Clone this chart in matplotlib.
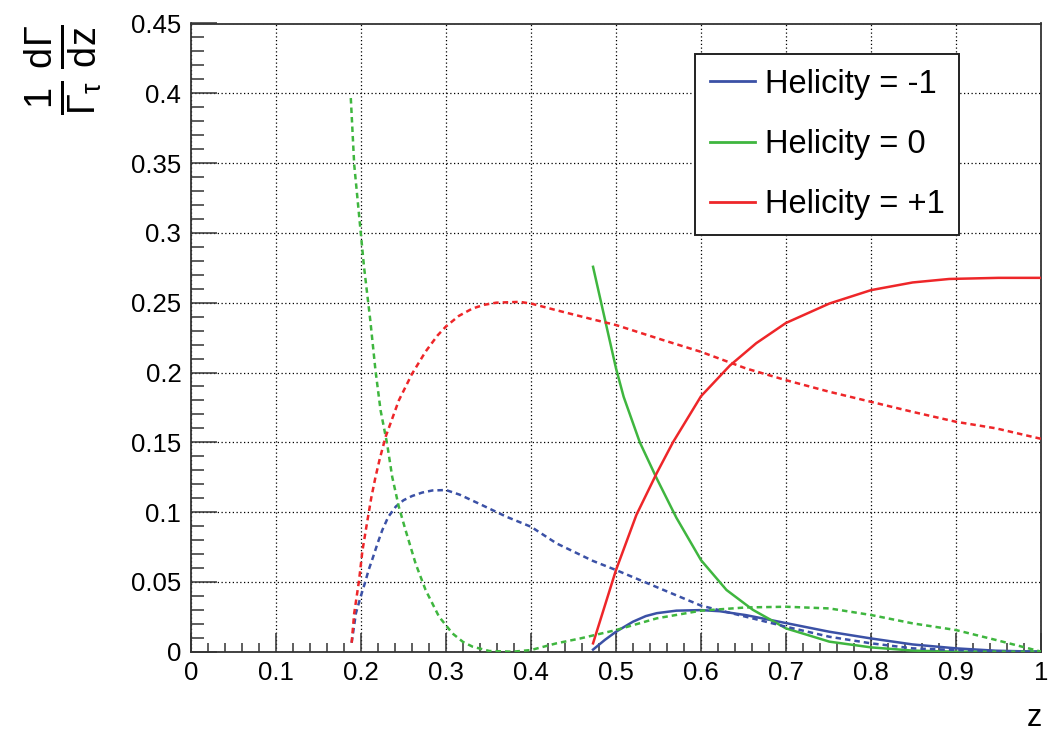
import matplotlib
matplotlib.use("Agg")
import matplotlib.pyplot as plt
from matplotlib.ticker import MultipleLocator, FixedLocator, FixedFormatter

# z distributions, dashed curves (threshold near z = 0.19)
z_dash_m1 = [0.189, 0.194, 0.200, 0.205, 0.209, 0.213, 0.220, 0.225, 0.232, 0.241, 0.250,
             0.260, 0.272, 0.284, 0.300, 0.316, 0.339, 0.371, 0.400, 0.430, 0.473, 0.500,
             0.556, 0.600, 0.653, 0.700, 0.751, 0.800, 0.849, 0.900, 0.950, 1.000]
y_dash_m1 = [0.0064, 0.0275, 0.0402, 0.0500, 0.0586, 0.0656, 0.0785, 0.0870, 0.0965, 0.1040, 0.1085,
             0.1115, 0.1140, 0.1155, 0.1158, 0.1125, 0.1060, 0.0967, 0.0895, 0.0776, 0.0650, 0.0585,
             0.0442, 0.0330, 0.0250, 0.0179, 0.0107, 0.0060, 0.0024, 0.0012, 0.0003, 0.0]

z_dash_0 = [0.188, 0.192, 0.198, 0.2035, 0.211, 0.217, 0.223, 0.2307, 0.2367, 0.2445,
            0.2524, 0.2643, 0.276, 0.2918, 0.3076, 0.320, 0.3313, 0.351, 0.3786, 0.400, 0.430,
            0.458, 0.500, 0.548, 0.600, 0.653, 0.700, 0.751, 0.800, 0.849, 0.900,
            0.947, 0.993, 1.000]
y_dash_0 = [0.3966, 0.349, 0.311, 0.276, 0.237, 0.2017, 0.173, 0.149, 0.1253, 0.1038,
            0.0871, 0.0630, 0.0442, 0.0251, 0.0131, 0.0070, 0.0036, 0.0005, 0.0, 0.0012, 0.0060,
            0.0095, 0.0155, 0.0239, 0.0294, 0.0317, 0.0322, 0.0310, 0.0263, 0.0203, 0.0155,
            0.0084, 0.0012, 0.0]

z_dash_p1 = [0.189, 0.192, 0.1977, 0.2016, 0.207, 0.212, 0.217, 0.222, 0.229, 0.2445, 0.260,
             0.276, 0.290, 0.300, 0.315, 0.331, 0.345, 0.359, 0.3865, 0.400, 0.430, 0.473,
             0.500, 0.556, 0.600, 0.653, 0.700, 0.751, 0.800, 0.849, 0.900, 0.947, 1.000]
y_dash_p1 = [0.0064, 0.0275, 0.051, 0.072, 0.092, 0.110, 0.125, 0.138, 0.154, 0.180, 0.199,
             0.215, 0.2265, 0.233, 0.2405, 0.2458, 0.2485, 0.2500, 0.2506, 0.2494, 0.2446, 0.2380,
             0.234, 0.2231, 0.2148, 0.2029, 0.1945, 0.1862, 0.179, 0.1718, 0.1647, 0.160, 0.1525]

# z distributions, solid curves (threshold near z = 0.473)
z_solid_m1 = [0.473, 0.487, 0.500, 0.520, 0.535, 0.548, 0.571, 0.600, 0.622, 0.653, 0.700,
              0.751, 0.800, 0.849, 0.900, 0.947, 1.000]
y_solid_m1 = [0.0015, 0.0085, 0.0143, 0.0215, 0.0255, 0.0276, 0.0294, 0.0298, 0.0290, 0.0262, 0.0205,
              0.0143, 0.0095, 0.0052, 0.0024, 0.0007, 0.0]

z_solid_0 = [0.473, 0.487, 0.500, 0.509, 0.528, 0.548, 0.571, 0.600, 0.630, 0.661,
             0.700, 0.751, 0.800, 0.849, 0.900, 1.000]
y_solid_0 = [0.2757, 0.238, 0.2030, 0.1826, 0.150, 0.124, 0.0960, 0.0656, 0.0442, 0.0300,
             0.0167, 0.0072, 0.0031, 0.0008, 0.0, 0.0]

z_solid_p1 = [0.473, 0.500, 0.524, 0.548, 0.567, 0.600, 0.634, 0.665, 0.700, 0.751,
              0.800, 0.849, 0.892, 0.950, 1.000]
y_solid_p1 = [0.006, 0.0585, 0.098, 0.128, 0.1500, 0.1830, 0.2050, 0.2210, 0.2355, 0.2494,
              0.2590, 0.2645, 0.2670, 0.2678, 0.2678]

labels = ["Helicity = -1", "Helicity = 0", "Helicity = +1"]
colors = ["#3b51a6", "#3fb63f", "#ee2629"]

x_ticks = [0, 0.1, 0.2, 0.3, 0.4, 0.5, 0.6, 0.7, 0.8, 0.9, 1.0]
x_tick_labels = ["0", "0.1", "0.2", "0.3", "0.4", "0.5", "0.6", "0.7", "0.8", "0.9", "1"]
y_ticks = [0, 0.05, 0.1, 0.15, 0.2, 0.25, 0.3, 0.35, 0.4, 0.45]
y_tick_labels = ["0", "0.05", "0.1", "0.15", "0.2", "0.25", "0.3", "0.35", "0.4", "0.45"]

plt.rcParams['font.family'] = ['Liberation Sans', 'DejaVu Sans']
plt.rcParams['mathtext.fontset'] = 'custom'
plt.rcParams['mathtext.rm'] = 'Liberation Sans'
plt.rcParams['mathtext.it'] = 'Liberation Sans'
plt.rcParams['mathtext.bf'] = 'Liberation Sans:bold'

W, H = 1049, 734
fig = plt.figure(figsize=(W / 100, H / 100), dpi=100)
ax = fig.add_axes([191 / W, (H - 651.7) / H, 850 / W, 628.2 / H])

dash = (0, (2.2, 1.6))
lw = 1.8
solid_sets = [(z_solid_m1, y_solid_m1), (z_solid_0, y_solid_0), (z_solid_p1, y_solid_p1)]
dash_sets = [(z_dash_m1, y_dash_m1), (z_dash_0, y_dash_0), (z_dash_p1, y_dash_p1)]

handles = []
for (zs, ys), c, lab in zip(solid_sets, colors, labels):
    h, = ax.plot(zs, ys, color=c, lw=lw, label=lab, zorder=3)
    handles.append(h)
for (zs, ys), c in zip(dash_sets, colors):
    ax.plot(zs, ys, color=c, lw=lw, linestyle=dash, zorder=3)

ax.set_xlim(0, 1)
ax.set_ylim(0, 0.45)

ax.xaxis.set_major_locator(FixedLocator(x_ticks))
ax.xaxis.set_major_formatter(FixedFormatter(x_tick_labels))
ax.yaxis.set_major_locator(FixedLocator(y_ticks))
ax.yaxis.set_major_formatter(FixedFormatter(y_tick_labels))
ax.xaxis.set_minor_locator(MultipleLocator(0.02))
ax.yaxis.set_minor_locator(MultipleLocator(0.01))

frame_col = "#333333"
for s in ax.spines.values():
    s.set_linewidth(1.3)
    s.set_color(frame_col)

ax.tick_params(axis='both', which='both', direction='in', top=False, right=False,
               color=frame_col, width=1.1, labelsize=18.5)
ax.tick_params(axis='y', which='major', length=18.7, pad=7)
ax.tick_params(axis='y', which='minor', length=9.4)
ax.tick_params(axis='x', which='major', length=13.7, pad=7)
ax.tick_params(axis='x', which='minor', length=6.8)

ax.grid(True, which='major', color='black', linestyle=(0, (1, 2)), linewidth=0.9, zorder=1)
ax.set_axisbelow(True)

# axis titles, ROOT-style: x title at the right end, y title at the top
fig.text(1042 / W, 1 / H, "z", fontsize=22, ha='right', va='bottom')
fig.text(63 / W, 1 - 70 / H, r'$\frac{1}{\Gamma_{\tau}}\,\frac{d\Gamma}{dz}$',
         fontsize=39, rotation=90, ha='center', va='center')

leg = ax.legend(handles=handles, loc='upper left',
                bbox_to_anchor=(695 / W, 1 - 54 / H), bbox_transform=fig.transFigure,
                borderaxespad=0, fontsize=23.5, handlelength=1.4, handletextpad=0.28,
                labelspacing=0.9, borderpad=0.45, fancybox=False, framealpha=1)
leg.get_frame().set_edgecolor("#222222")
leg.get_frame().set_linewidth(1.4)
for line in leg.get_lines():
    line.set_linewidth(2)

fig.savefig("out.png", dpi=100)
